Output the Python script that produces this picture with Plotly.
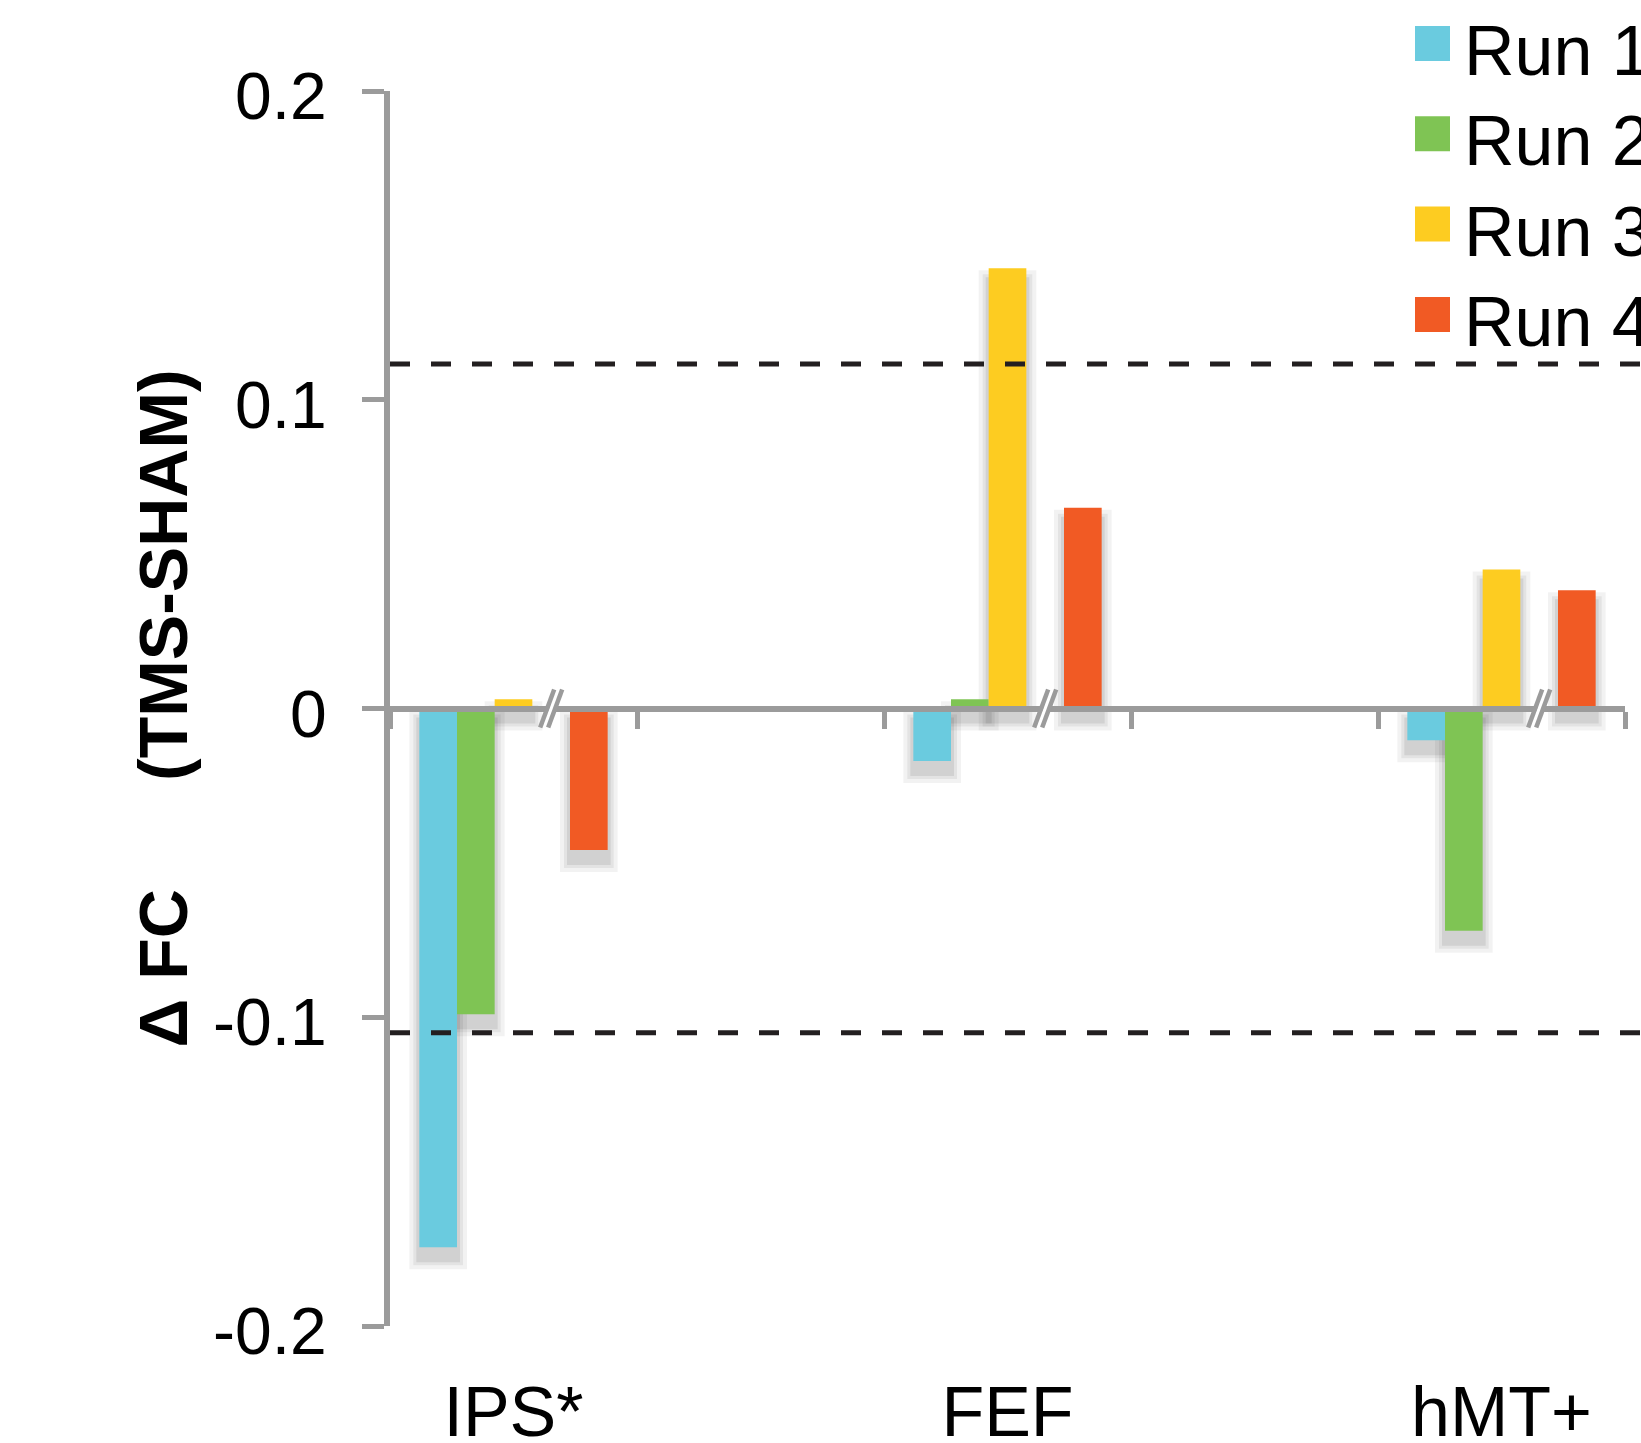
import plotly.graph_objects as go

# ---------------- data ----------------
regions = ["IPS*", "FEF", "hMT+"]
runs = ["Run 1", "Run 2", "Run 3", "Run 4"]
run1 = [-0.1745, -0.017, -0.0103]
run2 = [-0.099, 0.003, -0.072]
run3 = [0.003, 0.1426, 0.045]
run4 = [-0.0458, 0.065, 0.0383]
y_tick_values = [-0.2, -0.1, 0, 0.1, 0.2]
y_tick_labels = ["-0.2", "-0.1", "0", "0.1", "0.2"]
threshold_upper = 0.1116
threshold_lower = -0.105

# ---------------- style / layout ----------------
colors = ["#6ACBDF", "#7FC454", "#FDCC21", "#F15A24"]
series = [run1, run2, run3, run4]
AXIS_GRAY = "#9B9B9B"
FONT = "Liberation Sans, Arial, sans-serif"

W, H = 1641, 1443
ML, MR, MT, MB = 390, 16, 91, 117
PW = W - ML - MR
PH = H - MT - MB
X_RANGE = [0, 5]
Y_RANGE = [-0.2, 0.2]
px_per_x = PW / (X_RANGE[1] - X_RANGE[0])
px_per_y = PH / (Y_RANGE[1] - Y_RANGE[0])

GROUP_STEP = 2.0
GROUP_CENTER = 0.5
SLOT = 0.1525
slot_index = [-2, -1, 0, 2]  # Run 4 sits after the axis break
BREAK_SLOT = 1


def xpos(k):
    return [GROUP_STEP * g + GROUP_CENTER + slot_index[k] * SLOT for g in range(len(regions))]


fig = go.Figure()

# soft drop shadows (drawn on the lower subplot so bars sit above)
SH_OFF = 12 / px_per_y
for blur_px, alpha in [(10, 0.05), (6, 0.06), (3, 0.08)]:
    by = blur_px / px_per_y
    bx = blur_px / px_per_x
    for k, vals in enumerate(series):
        lo = [min(0, v) - SH_OFF - by for v in vals]
        hi = [max(0, v) - SH_OFF + by for v in vals]
        fig.add_trace(go.Bar(
            x=xpos(k), y=[h - l for h, l in zip(hi, lo)], base=lo,
            width=SLOT + 2 * bx, marker=dict(color=f"rgba(0,0,0,{alpha})", line=dict(width=0)),
            xaxis="x", yaxis="y", showlegend=False, hoverinfo="skip"))

# main bars
for k, vals in enumerate(series):
    fig.add_trace(go.Bar(
        x=xpos(k), y=vals, width=SLOT, name=runs[k],
        marker=dict(color=colors[k], line=dict(width=0)),
        xaxis="x2", yaxis="y", showlegend=False))

zero_pos = (0 - Y_RANGE[0]) / (Y_RANGE[1] - Y_RANGE[0])

shapes = []
# dashed threshold lines
for thr in [threshold_upper, threshold_lower]:
    shapes.append(dict(type="line", xref="paper", yref="y", x0=0, x1=(W - ML) / PW,
                       y0=thr, y1=thr, layer="above",
                       line=dict(color="#231F20", width=5, dash="20px,21px")))
# axis breaks
for g in range(len(regions)):
    bxv = GROUP_STEP * g + GROUP_CENTER + BREAK_SLOT * SLOT
    common = dict(xref="x2", yref="y", xsizemode="pixel", ysizemode="pixel",
                  xanchor=bxv, yanchor=0, layer="above")
    shapes.append(dict(type="path", path="M-9,-19 L5,19 L11,19 L-3,-19 Z",
                       fillcolor="white", line=dict(width=0), **common))
    shapes.append(dict(type="path", path="M-11,-19 L3,19",
                       line=dict(color=AXIS_GRAY, width=4.5), **common))
    shapes.append(dict(type="path", path="M-3,-19 L11,19",
                       line=dict(color=AXIS_GRAY, width=4.5), **common))

# manual legend
annotations = []
for i, (name, col) in enumerate(zip(runs, colors)):
    top_px = 26 + 90.3 * i
    shapes.append(dict(type="rect", xref="paper", yref="paper",
                       x0=(1415 - ML) / PW, x1=(1450 - ML) / PW,
                       y0=(H - MB - top_px) / PH, y1=(H - MB - top_px - 35) / PH,
                       fillcolor=col, line=dict(width=0), layer="above"))
    annotations.append(dict(text=name, xref="paper", yref="paper",
                            x=(1462 - ML) / PW, y=(H - MB - (top_px + 25)) / PH,
                            xanchor="left", yanchor="middle", showarrow=False,
                            font=dict(size=70, color="black", family=FONT)))

# y-axis title
annotations.append(dict(
    text="<b>Δ FC" + "\u00a0" * 5 + "\u2009(TMS-SHAM)</b>",
    xref="paper", yref="paper", x=(162 - ML) / PW, y=0.5,
    xanchor="center", yanchor="middle", textangle=-90, showarrow=False,
    font=dict(size=68, color="black", family=FONT)))

fig.update_layout(
    width=W, height=H, autosize=False,
    margin=dict(l=ML, r=MR, t=MT, b=MB, pad=0, autoexpand=False),
    paper_bgcolor="white", plot_bgcolor="white",
    barmode="overlay", showlegend=False,
    font=dict(family=FONT, color="black"),
    xaxis=dict(range=X_RANGE, domain=[0, 1], anchor="y", automargin=False,
               tickvals=[GROUP_STEP * g + GROUP_CENTER for g in range(len(regions))],
               ticktext=regions, ticks="", showline=False, showgrid=False,
               zeroline=False, tickfont=dict(size=70, color="black", family=FONT),
               ticklabelstandoff=39),
    xaxis2=dict(range=X_RANGE, overlaying="x", anchor="free", position=zero_pos,
                automargin=False,
                tickvals=list(range(X_RANGE[0], X_RANGE[1] + 1)),
                showticklabels=False, ticks="outside", ticklen=17, tickwidth=5,
                tickcolor=AXIS_GRAY, showline=True, linecolor=AXIS_GRAY, linewidth=6,
                showgrid=False, zeroline=False),
    yaxis=dict(range=Y_RANGE, tickvals=y_tick_values, ticktext=y_tick_labels,
               automargin=False,
               ticks="outside", ticklen=22, tickwidth=5, tickcolor=AXIS_GRAY,
               showline=True, linecolor=AXIS_GRAY, linewidth=6,
               showgrid=False, zeroline=False,
               tickfont=dict(size=66, color="black", family=FONT),
               ticklabelstandoff=22, ticklabelshift=5),
    shapes=shapes, annotations=annotations,
)

fig.write_html("out.html", config={"displayModeBar": False},
               post_script="document.body.style.margin='0';")
